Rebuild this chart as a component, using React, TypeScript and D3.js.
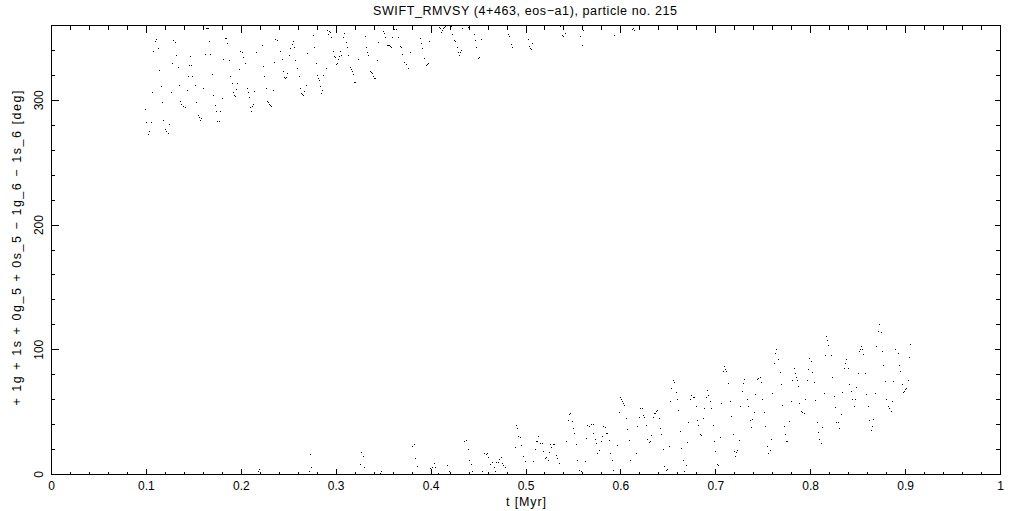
import React from "react";
import * as d3 from "d3";

// ---- data: time [Myr] and resonant angle [deg] ----
const title = "SWIFT_RMVSY (4+463, eos\u2212a1), particle no. 215";
const xLabel = "t [Myr]";
const yLabel = "+ 1g + 1s + 0g_5 + 0s_5 \u2212 1g_6 \u2212 1s_6 [deg]";
const xMajorTicks = [0, 0.1, 0.2, 0.3, 0.4, 0.5, 0.6, 0.7, 0.8, 0.9, 1];
const xTickLabels = ["0", "0.1", "0.2", "0.3", "0.4", "0.5", "0.6", "0.7", "0.8", "0.9", "1"];
const yMajorTicks = [0, 100, 200, 300];
const yTickLabels = ["0", "100", "200", "300"];

const upperPoints: [number, number][] = [
  [0.0994, 292.4], [0.1005, 282.0], [0.1036, 275.0], [0.1026, 272.6], [0.1057, 282.5], [0.1068, 306.0],
  [0.1078, 339.2], [0.1100, 347.2], [0.1110, 348.8], [0.1131, 341.3], [0.1142, 323.9], [0.1163, 311.1],
  [0.1173, 298.0], [0.1184, 283.6], [0.1205, 276.3], [0.1215, 275.0], [0.1236, 273.1], [0.1247, 280.6],
  [0.1268, 306.0], [0.1279, 329.3], [0.1289, 348.0], [0.1310, 346.4], [0.1321, 335.7], [0.1342, 326.1],
  [0.1352, 311.6], [0.1363, 298.8], [0.1373, 296.4], [0.1394, 294.8], [0.1415, 294.2], [0.1429, 307.9],
  [0.1447, 318.8], [0.1458, 327.7], [0.1468, 334.9], [0.1479, 327.7], [0.1489, 318.8], [0.1521, 311.6],
  [0.1531, 298.0], [0.1552, 287.8], [0.1563, 286.0], [0.1573, 283.6], [0.1584, 285.2], [0.1605, 309.5],
  [0.1626, 336.5], [0.1637, 357.9], [0.1647, 357.9], [0.1658, 357.9], [0.1668, 347.2], [0.1679, 336.5],
  [0.1700, 320.4], [0.1710, 303.6], [0.1731, 295.6], [0.1742, 290.8], [0.1753, 282.8], [0.1774, 282.8],
  [0.1784, 290.8], [0.1805, 301.2], [0.1816, 332.5], [0.1837, 349.3], [0.1847, 349.3], [0.1858, 345.3],
  [0.1879, 331.9], [0.1890, 318.8], [0.1911, 313.2], [0.1921, 306.0], [0.1932, 303.6], [0.1942, 302.8],
  [0.1953, 308.4], [0.1963, 313.2], [0.1984, 324.4], [0.1995, 339.4], [0.2016, 338.1], [0.2026, 334.6],
  [0.2047, 329.3], [0.2068, 309.2], [0.2079, 306.0], [0.2089, 302.0], [0.2100, 294.0], [0.2110, 290.8],
  [0.2121, 294.8], [0.2131, 296.9], [0.2142, 306.8], [0.2163, 338.1], [0.2226, 344.0], [0.2237, 326.9],
  [0.2247, 318.8], [0.2268, 309.2], [0.2279, 298.8], [0.2290, 298.0], [0.2300, 296.4], [0.2311, 295.6],
  [0.2321, 294.8], [0.2342, 307.6], [0.2353, 330.1], [0.2363, 348.8], [0.2384, 348.0], [0.2416, 338.9],
  [0.2437, 332.5], [0.2447, 322.8], [0.2458, 318.0], [0.2468, 317.2], [0.2479, 318.0], [0.2489, 321.2],
  [0.2511, 335.7], [0.2521, 341.3], [0.2542, 345.0], [0.2553, 347.2], [0.2563, 342.1], [0.2574, 332.2],
  [0.2595, 325.3], [0.2616, 318.8], [0.2626, 309.2], [0.2637, 305.2], [0.2647, 304.4], [0.2658, 303.6],
  [0.2668, 307.1], [0.2690, 311.6], [0.2700, 337.3], [0.2763, 351.7], [0.2774, 342.1], [0.2795, 329.3],
  [0.2805, 319.9], [0.2816, 317.2], [0.2826, 315.6], [0.2837, 310.8], [0.2848, 305.2], [0.2858, 307.6],
  [0.2869, 319.9], [0.2900, 325.3], [0.2911, 355.7], [0.2921, 352.5], [0.2932, 355.2], [0.2942, 354.1],
  [0.2953, 350.1], [0.2974, 339.4], [0.2984, 335.4], [0.2995, 334.1], [0.3005, 328.5], [0.3016, 329.3],
  [0.3026, 332.7], [0.3037, 335.4], [0.3048, 338.9], [0.3058, 335.7], [0.3079, 350.1], [0.3090, 353.3],
  [0.3111, 346.1], [0.3121, 342.1], [0.3132, 335.9], [0.3153, 326.1], [0.3163, 324.4], [0.3174, 322.8],
  [0.3184, 320.4], [0.3195, 314.6], [0.3205, 314.6], [0.3237, 332.5], [0.3311, 350.9], [0.3321, 342.1],
  [0.3332, 338.6], [0.3343, 335.9], [0.3364, 322.8], [0.3374, 322.0], [0.3385, 321.2], [0.3395, 318.8],
  [0.3406, 317.2], [0.3416, 317.2], [0.3437, 331.7], [0.3448, 346.1], [0.3501, 354.9], [0.3511, 353.3],
  [0.3522, 350.1], [0.3543, 343.7], [0.3553, 343.7], [0.3564, 343.7], [0.3574, 342.9], [0.3585, 342.1],
  [0.3595, 350.1], [0.3606, 357.3], [0.3617, 356.8], [0.3636, 356.8], [0.3657, 350.1], [0.3678, 342.9],
  [0.3688, 342.1], [0.3699, 336.5], [0.3720, 330.1], [0.3741, 328.5], [0.3762, 325.3], [0.3783, 338.1],
  [0.3888, 349.3], [0.3899, 345.3], [0.3909, 341.3], [0.3930, 333.3], [0.3951, 327.9], [0.3962, 328.5],
  [0.3972, 329.3], [0.3983, 347.2], [0.4088, 358.1], [0.4099, 357.3], [0.4109, 354.1], [0.4120, 355.7],
  [0.4130, 357.3], [0.4141, 358.1], [0.4152, 358.9], [0.4204, 358.9], [0.4215, 358.9], [0.4225, 352.8],
  [0.4246, 347.7], [0.4257, 347.2], [0.4278, 342.1], [0.4288, 338.1], [0.4299, 335.9], [0.4309, 338.1],
  [0.4320, 339.7], [0.4331, 357.3], [0.4394, 358.1], [0.4457, 352.5], [0.4467, 347.7], [0.4478, 342.1],
  [0.4499, 333.3], [0.4510, 334.1], [0.4531, 348.5], [0.4815, 352.5], [0.4825, 350.9], [0.4846, 344.5],
  [0.4857, 342.1], [0.5025, 348.5], [0.5036, 342.9], [0.5047, 341.3], [0.5057, 340.5], [0.5068, 345.3],
  [0.5362, 358.9], [0.5384, 351.7], [0.5394, 350.9], [0.5415, 353.3], [0.5573, 350.9], [0.5594, 343.7],
  [0.5605, 355.7], [0.5931, 351.7], [0.6121, 356.5], [0.6131, 357.3], [0.6142, 355.7],
];

const lowerPoints: [number, number][] = [
  [0.2184, 2.6], [0.2192, 3.8],
  [0.2733, 16.0], [0.2743, 5.3], [0.2722, 2.7], [0.3270, 17.6], [0.3291, 14.4], [0.3259, 7.7],
  [0.3302, 5.3], [0.3481, 2.4], [0.3470, 1.1], [0.3807, 22.2], [0.3828, 24.0], [0.3839, 12.6],
  [0.3860, 6.1], [0.3997, 4.5], [0.4008, 2.7], [0.4018, 5.3], [0.4039, 8.5], [0.4050, 5.9],
  [0.4081, 0.5], [0.4176, 6.9], [0.4197, 2.4], [0.4355, 26.5], [0.4376, 27.0], [0.4397, 19.8],
  [0.4408, 10.9], [0.4429, 7.7], [0.4440, 2.1], [0.4545, 2.4], [0.4566, 16.8], [0.4587, 16.0],
  [0.4598, 16.8], [0.4608, 13.4], [0.4629, 7.7], [0.4650, 9.3], [0.4671, 5.3], [0.4682, 2.4],
  [0.4692, 9.3], [0.4713, 9.3], [0.4724, 11.7], [0.4745, 13.4], [0.4756, 8.5], [0.4766, 6.9],
  [0.4787, 5.3], [0.4892, 21.4], [0.4903, 39.3], [0.4913, 36.6], [0.4924, 30.5], [0.4945, 29.4],
  [0.4956, 23.0], [0.4977, 14.2], [0.4998, 10.2], [0.5082, 10.2], [0.5103, 19.8], [0.5114, 26.2],
  [0.5124, 26.2], [0.5135, 30.5], [0.5156, 24.6], [0.5177, 24.6], [0.5188, 18.2], [0.5209, 12.6],
  [0.5219, 13.4], [0.5240, 10.9], [0.5251, 17.4], [0.5261, 23.8], [0.5272, 21.4], [0.5293, 23.8],
  [0.5303, 23.8], [0.5325, 15.0], [0.5335, 12.6], [0.5356, 8.5], [0.5430, 26.2], [0.5451, 43.0],
  [0.5461, 47.8], [0.5472, 48.6], [0.5493, 42.2], [0.5504, 36.6], [0.5514, 33.1], [0.5535, 23.8],
  [0.5546, 10.9], [0.5567, 2.9], [0.5588, 2.1], [0.5630, 10.2], [0.5641, 28.6], [0.5651, 39.0],
  [0.5672, 38.2], [0.5690, 39.8], [0.5711, 39.8], [0.5711, 32.6], [0.5732, 27.8], [0.5743, 24.6],
  [0.5753, 16.6], [0.5774, 19.0], [0.5796, 26.2], [0.5806, 30.2], [0.5817, 38.2], [0.5838, 37.4],
  [0.5848, 32.6], [0.5859, 32.6], [0.5880, 27.0], [0.5890, 16.6], [0.5911, 11.0], [0.5922, 2.9],
  [0.5964, 23.0], [0.5985, 49.4], [0.5996, 61.5], [0.6006, 59.9], [0.6017, 58.3], [0.6027, 56.7],
  [0.6038, 55.1], [0.6059, 44.6], [0.6070, 35.8], [0.6091, 27.0], [0.6101, 11.0], [0.6164, 16.6],
  [0.6175, 38.2], [0.6196, 45.4], [0.6206, 52.7], [0.6228, 52.7], [0.6238, 47.0], [0.6249, 45.4],
  [0.6270, 39.0], [0.6280, 27.8], [0.6301, 25.4], [0.6312, 26.2], [0.6322, 31.0], [0.6343, 45.4],
  [0.6354, 48.6], [0.6365, 48.6], [0.6375, 50.2], [0.6386, 51.0], [0.6407, 44.6], [0.6417, 36.6],
  [0.6428, 31.8], [0.6449, 19.8], [0.6459, 6.1], [0.6480, 2.9], [0.6491, 3.7], [0.6512, 22.2],
  [0.6523, 58.3], [0.6533, 68.7], [0.6554, 75.1], [0.6565, 73.5], [0.6586, 65.5], [0.6596, 59.9],
  [0.6607, 51.0], [0.6628, 34.2], [0.6639, 20.6], [0.6660, 11.0], [0.6670, 2.1], [0.6691, 6.9],
  [0.6702, 25.4], [0.6712, 41.4], [0.6733, 59.9], [0.6744, 63.1], [0.6765, 61.5], [0.6775, 61.5],
  [0.6796, 54.3], [0.6807, 43.0], [0.6818, 39.0], [0.6839, 31.8], [0.6849, 31.0], [0.6870, 44.6],
  [0.6881, 52.7], [0.6902, 61.5], [0.6912, 67.1], [0.6923, 63.1], [0.6944, 58.3], [0.6955, 52.7],
  [0.6976, 39.0], [0.6986, 26.2], [0.6997, 18.2], [0.7018, 7.7], [0.7028, 6.9], [0.7049, 29.4],
  [0.7060, 56.7], [0.7081, 82.3], [0.7092, 86.3], [0.7102, 83.9], [0.7113, 82.3], [0.7134, 72.7],
  [0.7155, 58.3], [0.7165, 46.2], [0.7186, 31.8], [0.7197, 18.2], [0.7207, 14.2], [0.7218, 17.4],
  [0.7229, 19.0], [0.7250, 27.0], [0.7260, 54.3], [0.7281, 66.3], [0.7292, 72.7], [0.7302, 75.9],
  [0.7334, 59.9], [0.7344, 54.3], [0.7365, 43.0], [0.7376, 37.4], [0.7387, 43.8], [0.7408, 49.4],
  [0.7422, 63.9], [0.7443, 75.9], [0.7453, 76.7], [0.7474, 77.5], [0.7485, 73.5], [0.7496, 59.9],
  [0.7517, 49.4], [0.7527, 38.2], [0.7548, 22.2], [0.7559, 16.6], [0.7580, 19.0], [0.7590, 27.8],
  [0.7601, 64.7], [0.7622, 88.7], [0.7633, 96.8], [0.7643, 100.0], [0.7664, 91.9], [0.7685, 81.5],
  [0.7696, 71.9], [0.7706, 55.1], [0.7727, 38.2], [0.7738, 31.8], [0.7748, 26.2], [0.7759, 26.2],
  [0.7780, 42.2], [0.7801, 58.3], [0.7812, 75.1], [0.7833, 84.7], [0.7843, 80.7], [0.7854, 77.5],
  [0.7864, 75.1], [0.7875, 70.3], [0.7885, 56.7], [0.7906, 50.2], [0.7917, 49.4], [0.7938, 48.6],
  [0.7949, 59.9], [0.7970, 75.1], [0.7980, 83.9], [0.7991, 92.7], [0.8012, 90.3], [0.8022, 81.5],
  [0.8043, 73.5], [0.8054, 59.1], [0.8075, 41.4], [0.8086, 33.4], [0.8096, 27.8], [0.8117, 24.6],
  [0.8128, 37.4], [0.8149, 64.7], [0.8159, 95.2], [0.8170, 110.4], [0.8180, 107.2], [0.8191, 103.2],
  [0.8223, 95.2], [0.8233, 77.5], [0.8254, 62.3], [0.8265, 53.5], [0.8275, 41.4], [0.8296, 41.4],
  [0.8307, 36.6], [0.8328, 47.8], [0.8338, 65.5], [0.8360, 84.7], [0.8370, 88.7], [0.8381, 91.9],
  [0.8402, 84.7], [0.8412, 71.9], [0.8433, 66.3], [0.8444, 59.9], [0.8465, 54.3], [0.8475, 59.9],
  [0.8486, 69.5], [0.8507, 80.7], [0.8518, 98.4], [0.8528, 100.0], [0.8539, 102.4], [0.8549, 100.0],
  [0.8560, 95.9], [0.8581, 80.7], [0.8591, 63.9], [0.8612, 54.3], [0.8623, 43.0], [0.8644, 35.0],
  [0.8654, 38.2], [0.8665, 43.8], [0.8686, 64.7], [0.8697, 102.4], [0.8718, 114.4], [0.8728, 120.0],
  [0.8749, 113.6], [0.8760, 98.4], [0.8770, 87.1], [0.8791, 74.3], [0.8802, 59.9], [0.8823, 54.3],
  [0.8834, 52.7], [0.8855, 50.2], [0.8865, 58.3], [0.8876, 74.3], [0.8897, 100.0], [0.8928, 96.8],
  [0.8939, 87.1], [0.8949, 82.3], [0.8971, 71.9], [0.8981, 65.5], [0.8992, 66.3], [0.9002, 67.9],
  [0.9013, 68.7], [0.9034, 75.1], [0.9044, 93.5], [0.9055, 104.0],
];

const W = 1021;
const H = 511;
const FONT = "'Liberation Sans', Arial, sans-serif";

export default function App() {
  const x = d3.scaleLinear().domain([0, 1]).range([51.5, 1000.5]);
  const y = d3.scaleLinear().domain([0, 360]).range([474.5, 25.5]);
  const xMinor = d3.range(0, 1.0001, 0.02).map((v) => +v.toFixed(2));
  const yMinor = d3.range(0, 360.001, 20);
  const isXMajor = (v: number) => Math.abs(v * 10 - Math.round(v * 10)) < 1e-6;
  const isYMajor = (v: number) => v % 100 === 0;
  const [x0, x1] = x.range();
  const [y0, y1] = y.range();
  const pts = [...upperPoints, ...lowerPoints];

  return (
    <svg
      width={W}
      height={H}
      style={{ position: "absolute", left: 0, top: 0, background: "#fff" }}
      fontFamily={FONT}
    >
      <rect x={0} y={0} width={W} height={H} fill="#fff" />
      <g shapeRendering="crispEdges">
        {pts.map(([t, a], i) => (
          <rect key={i} x={Math.floor(x(t))} y={Math.floor(y(a))} width={1} height={1} fill="#000" />
        ))}
      </g>
      <g stroke="#000" strokeWidth={1} shapeRendering="crispEdges" fill="none">
        <rect x={x0} y={y1} width={x1 - x0} height={y0 - y1} />
        {xMinor.map((v, i) => {
          const maj = isXMajor(v);
          return (
            <g key={"xt" + i}>
              <line x1={x(v)} x2={x(v)} y1={y0} y2={y0 - (maj ? 6 : 3)} />
              <line x1={x(v)} x2={x(v)} y1={y1} y2={y1 + (maj ? 7 : 4)} />
            </g>
          );
        })}
        {yMinor.map((v, i) => {
          const maj = isYMajor(v);
          return (
            <g key={"yt" + i}>
              <line x1={x0} x2={x0 + (maj ? 7 : 3)} y1={y(v)} y2={y(v)} />
              <line x1={x1} x2={x1 - (maj ? 6 : 5)} y1={y(v)} y2={y(v)} />
            </g>
          );
        })}
      </g>
      <g fontSize={12} fill="#000">
        {xMajorTicks.map((v, i) => (
          <text key={"xl" + i} x={x(v)} y={490} textAnchor="middle">
            {xTickLabels[i]}
          </text>
        ))}
        {yMajorTicks.map((v, i) => (
          <text
            key={"yl" + i}
            transform={`translate(43,${y(v)}) rotate(-90)`}
            textAnchor="middle"
          >
            {yTickLabels[i]}
          </text>
        ))}
      </g>
      <text
        x={525}
        y={15}
        fontSize={12.5}
        textAnchor="middle"
        textLength={304}
        lengthAdjust="spacing"
        fill="#000"
      >
        {title}
      </text>
      <text
        x={526}
        y={506}
        fontSize={12.5}
        textAnchor="middle"
        textLength={40}
        lengthAdjust="spacing"
        fill="#000"
      >
        {xLabel}
      </text>
      <text
        transform={`translate(21,248) rotate(-90)`}
        fontSize={12.5}
        textAnchor="middle"
        textLength={315}
        lengthAdjust="spacing"
        fill="#000"
      >
        {yLabel}
      </text>
    </svg>
  );
}
